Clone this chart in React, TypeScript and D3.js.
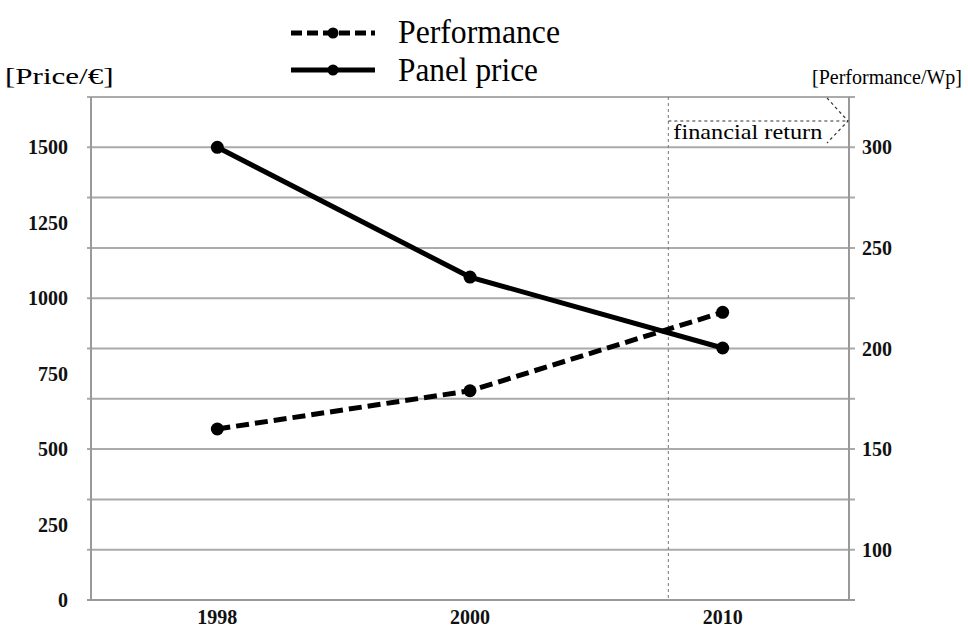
import React from "react";
import * as d3 from "d3";

const years = ["1998", "2000", "2010"];
const panelPrice = [1500, 1070, 835];
const performance = [160, 179, 218];
const leftTicks = [0, 250, 500, 750, 1000, 1250, 1500];
const rightTicks = [100, 150, 200, 250, 300];
const gridTicks = [75, 100, 125, 150, 175, 200, 225, 250, 275, 300, 325];

const W = 968, H = 628;
const M = { left: 91, right: 849, top: 97, bottom: 600 };
const FONT = "Liberation Serif, Times New Roman, DejaVu Serif, serif";

const T = (p: any) => <text {...p} style={{ fontFamily: FONT }} />;

export default function App() {
  const x = d3.scaleBand<string>().domain(years).range([M.left, M.right]);
  const yL = d3.scaleLinear().domain([0, 5000 / 3]).range([M.bottom, M.top]);
  const yR = d3.scaleLinear().domain([75, 325]).range([M.bottom, M.top]);
  const cx = (d: string) => (x(d) as number) + x.bandwidth() / 2;

  const linePrice = d3.line<number>().x((_, i) => cx(years[i])).y((v) => yL(v));
  const linePerf = d3.line<number>().x((_, i) => cx(years[i])).y((v) => yR(v));

  const retX = M.left + x.bandwidth() * 2.285;
  const arrowY = 121;

  return (
    <svg width={W} height={H} style={{ position: "absolute", left: 0, top: 0, background: "#fff" }}>
      {gridTicks.map((t) => (
        <line key={t} x1={M.left - 4} x2={M.right + 6} y1={yR(t)} y2={yR(t)} stroke="#aaa" strokeWidth={2} />
      ))}
      <line x1={M.left} x2={M.left} y1={M.top} y2={M.bottom} stroke="#999" strokeWidth={2} />
      <line x1={M.right} x2={M.right} y1={M.top} y2={M.bottom} stroke="#999" strokeWidth={2} />
      <line x1={M.left - 4} x2={M.right + 6} y1={M.bottom} y2={M.bottom} stroke="#999" strokeWidth={2} />

      <line x1={retX} x2={retX} y1={M.top} y2={M.bottom} stroke="#777" strokeWidth={1} strokeDasharray="3,3" />
      <line x1={retX} x2={M.right - 2} y1={arrowY} y2={arrowY} stroke="#333" strokeWidth={1.2} strokeDasharray="3,3" />
      <polyline points={`${M.right - 22},${arrowY - 23} ${M.right - 1},${arrowY} ${M.right - 22},${arrowY + 22}`} fill="none" stroke="#333" strokeWidth={1.2} strokeDasharray="3,3" />
      <T x={retX + 5} y={139} fontSize={22} textLength={149} lengthAdjust="spacingAndGlyphs" fill="#000">financial return</T>

      {leftTicks.map((t) => (
        <T key={t} x={68} y={yL(t)} dy="0.35em" textAnchor="end" fontSize={20} fontWeight="bold" fill="#111">{t}</T>
      ))}
      {rightTicks.map((t) => (
        <T key={t} x={862} y={yR(t)} dy="0.35em" textAnchor="start" fontSize={20} fontWeight="bold" fill="#111">{t}</T>
      ))}
      {years.map((y) => (
        <T key={y} x={cx(y)} y={617} dy="0.35em" textAnchor="middle" fontSize={20} fontWeight="bold" fill="#111">{y}</T>
      ))}

      <path d={linePrice(panelPrice) || ""} fill="none" stroke="#000" strokeWidth={5} />
      {panelPrice.map((v, i) => (
        <circle key={i} cx={cx(years[i])} cy={yL(v)} r={6.5} fill="#000" />
      ))}
      <path d={linePerf(performance) || ""} fill="none" stroke="#000" strokeWidth={5} strokeDasharray="13,6" />
      {performance.map((v, i) => (
        <circle key={i} cx={cx(years[i])} cy={yR(v)} r={6.5} fill="#000" />
      ))}

      <g transform="translate(5,84) scale(1.35,1)">
        <T x={0} y={0} fontSize={23} fill="#000">[Price/€]</T>
      </g>
      <T x={812} y={84} fontSize={20.5} textLength={150} lengthAdjust="spacingAndGlyphs" fill="#000">[Performance/Wp]</T>

      <line x1={291} x2={375} y1={33} y2={33} stroke="#000" strokeWidth={5} strokeDasharray="11,5" />
      <circle cx={333} cy={33} r={5.5} fill="#000" />
      <T x={398} y={43} fontSize={34} textLength={162} lengthAdjust="spacingAndGlyphs" fill="#000">Performance</T>
      <line x1={291} x2={375} y1={70} y2={70} stroke="#000" strokeWidth={5} />
      <circle cx={333} cy={70} r={5.5} fill="#000" />
      <T x={398} y={81} fontSize={34} textLength={140} lengthAdjust="spacingAndGlyphs" fill="#000">Panel price</T>
    </svg>
  );
}
